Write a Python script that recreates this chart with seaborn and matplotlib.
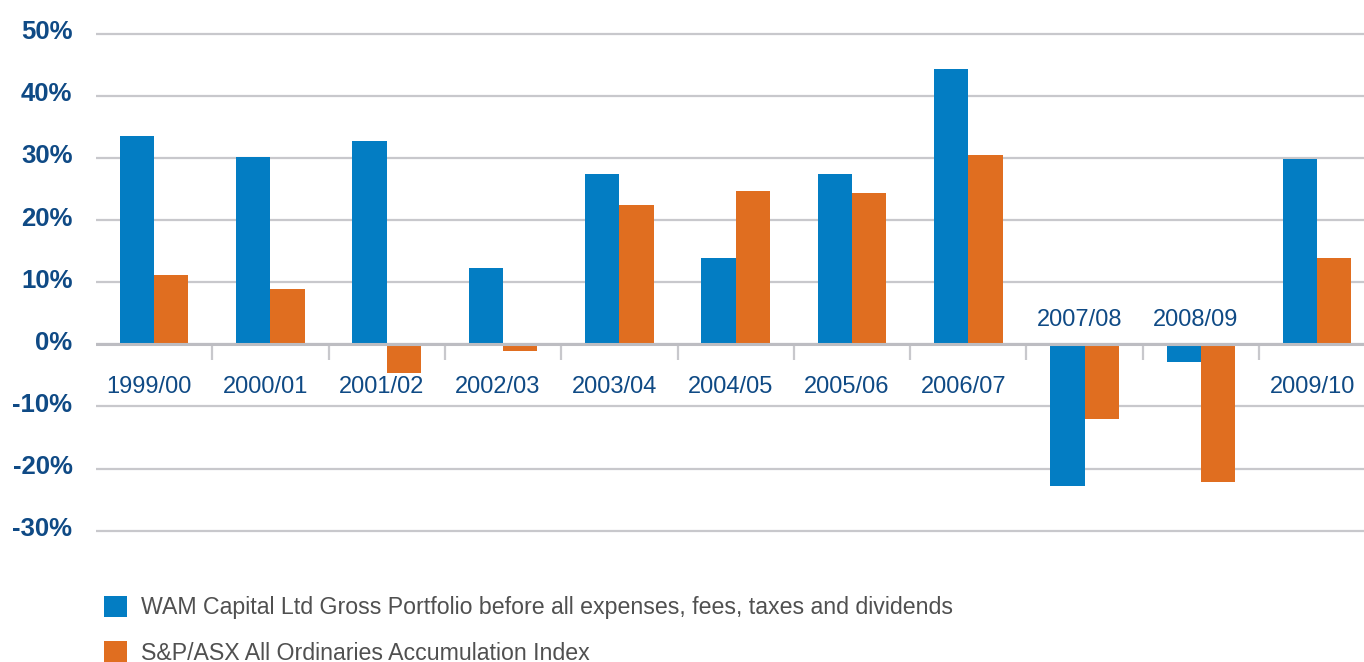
import numpy as np
import pandas as pd
import matplotlib
matplotlib.use("Agg")
import matplotlib.pyplot as plt
import matplotlib.transforms as mtransforms
import seaborn as sns

# Financial-year returns (%)
years = ["1999/00", "2000/01", "2001/02", "2002/03", "2003/04", "2004/05",
         "2005/06", "2006/07", "2007/08", "2008/09", "2009/10"]
wam_returns = [33.5, 30.2, 32.7, 12.3, 27.4, 13.9, 27.4, 44.3, -22.8, -2.9, 29.8]
index_returns = [11.2, 8.9, -4.7, -1.0, 22.4, 24.7, 24.4, 30.5, -12.1, -22.2, 13.9]

series_names = ["WAM Capital Ltd Gross Portfolio before all expenses, fees, taxes and dividends",
                "S&P/ASX All Ordinaries Accumulation Index"]
y_ticks = [-30, -20, -10, 0, 10, 20, 30, 40, 50]

BLUE = "#037DC3"
ORANGE = "#E06E20"
NAVY = "#0F4A85"
GRID = "#C8C8CC"

df = pd.DataFrame({
    "year": years * 2,
    "value": wam_returns + index_returns,
    "series": [series_names[0]] * len(years) + [series_names[1]] * len(years),
})

sns.set_theme(style="white")
plt.rcParams["font.family"] = ["Liberation Sans", "DejaVu Sans"]

W, H, DPI = 1364, 662, 100
fig = plt.figure(figsize=(W / DPI, H / DPI), dpi=DPI)

# axes geometry in pixels
left_px, right_px = 96, 1364
y_top, y_bot = 52, -35
px_per_pct = (344.3 - 33.7) / 50.0
top_px = 344.3 - y_top * px_per_pct
bot_px = 344.3 - y_bot * px_per_pct
ax = fig.add_axes([left_px / W, (H - bot_px) / H,
                   (right_px - left_px) / W, (bot_px - top_px) / H])

sns.barplot(data=df, x="year", y="value", hue="series", order=years,
            hue_order=series_names, palette=[BLUE, ORANGE],
            width=0.59, saturation=1, errorbar=None, ax=ax, zorder=3,
            linewidth=0)

cat_w = 116.3
ax.set_xlim(-0.5, -0.5 + (right_px - left_px) / cat_w)
ax.set_ylim(y_bot, y_top)

for s in ax.spines.values():
    s.set_visible(False)

ax.set_yticks(y_ticks)
ax.set_yticklabels([f"{t}%" for t in y_ticks], fontsize=18.5,
                   fontweight="bold", color=NAVY)
ax.tick_params(axis="y", length=0, pad=17)
lift = mtransforms.ScaledTranslation(0, 4 / DPI, fig.dpi_scale_trans)
for lab in ax.get_yticklabels():
    lab.set_transform(lab.get_transform() + lift)
ax.yaxis.grid(True, color=GRID, linewidth=1.6, zorder=0)
ax.axhline(0, color="#BDBDC2", linewidth=2.2, zorder=4)

# category separators below the zero line
ax.vlines(np.arange(len(years) - 1) + 0.5, -16 / px_per_pct, 0,
          color=GRID, linewidth=1.6, zorder=2)

ax.set_xticks([])
ax.set_xlabel("")
ax.set_ylabel("")

# year labels: below the baseline, or above it when both bars are negative
for i, (yr, a, b) in enumerate(zip(years, wam_returns, index_returns)):
    above = a < 0 and b < 0
    dy = 24 if above else -43
    tr = ax.transData + mtransforms.ScaledTranslation(-5 / DPI, dy / DPI, fig.dpi_scale_trans)
    ax.text(i, 0, yr, transform=tr, ha="center", va="center",
            fontsize=17, color=NAVY)

leg = ax.get_legend()
handles = leg.legend_handles
leg.remove()
fig.legend(handles, series_names, loc="upper left",
           bbox_to_anchor=(104 / W, 1 - 596 / H), frameon=False,
           fontsize=16.7, handlelength=0.99, handleheight=0.99,
           handletextpad=0.6, labelspacing=0.95, borderpad=0,
           borderaxespad=0, labelcolor="#505050")

fig.savefig("out.png", dpi=DPI)
